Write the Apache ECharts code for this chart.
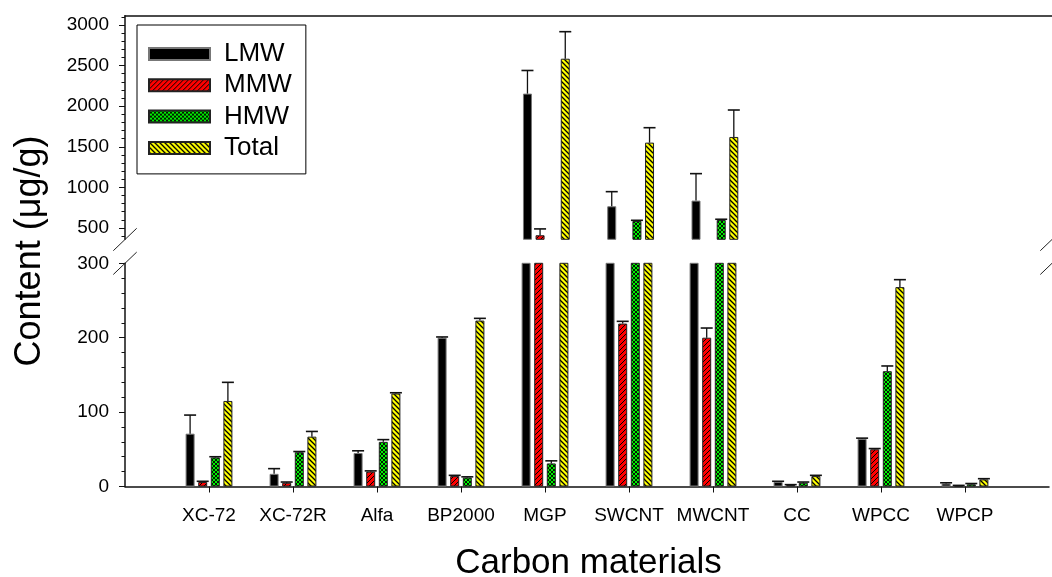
<!DOCTYPE html>
<html>
<head>
<meta charset="utf-8">
<script src="https://cdn.jsdelivr.net/npm/echarts@6/dist/echarts.min.js"></script>
<style>
html,body{margin:0;padding:0;background:#fff;}
#chart{width:1052px;height:577px;}
</style>
</head>
<body>
<div id="chart"></div>
<script>
// ---- data ----
const categories = ['XC-72','XC-72R','Alfa','BP2000','MGP','SWCNT','MWCNT','CC','WPCC','WPCP'];
const seriesNames = ['LMW','MMW','HMW','Total'];
const LMW       = [71, 17, 45, 200, 2155, 767, 837, 6, 64, 4];
const LMW_err   = [25, 7, 3, 1, 285, 180, 332, 1, 1, 1];
const MMW       = [6, 5, 20, 14, 410, 219, 200, 2, 50, 1];
const MMW_err   = [1, 1, 1, 1, 78, 3, 13, 0.5, 1, 0.5];
const HMW       = [39, 46, 60, 12, 31, 586, 598, 5, 155, 3];
const HMW_err   = [1, 1, 3, 1, 3.5, 8, 9, 1, 7, 1];
const Total     = [115, 67, 125, 223, 2585, 1551, 1621, 14, 268, 9.5];
const Total_err = [25, 7, 1, 3, 333, 184, 332, 1, 10, 1];
const upperTicks = [500, 1000, 1500, 2000, 2500, 3000];
const upperMinorTicks = [400,500,600,700,800,900,1000,1100,1200,1300,1400,1500,1600,1700,1800,1900,2000,2100,2200,2300,2400,2500,2600,2700,2800,2900,3000,3100];

const values = [LMW, MMW, HMW, Total];
const errors = [LMW_err, MMW_err, HMW_err, Total_err];

// ---- patterns ----
function makePattern(kind) {
  const s = kind === 'cross' ? 4 : 5;
  const c = document.createElement('canvas');
  c.width = s; c.height = s;
  const g = c.getContext('2d');
  if (kind === 'slash') {
    g.fillStyle = '#ff0000'; g.fillRect(0,0,s,s);
    g.strokeStyle = '#000'; g.lineWidth = 1;
    g.beginPath();
    g.moveTo(0, s); g.lineTo(s, 0);
    g.moveTo(-1, 1); g.lineTo(1, -1);
    g.moveTo(s-1, s+1); g.lineTo(s+1, s-1);
    g.stroke();
  } else if (kind === 'back') {
    g.fillStyle = '#ffff00'; g.fillRect(0,0,s,s);
    g.strokeStyle = '#000'; g.lineWidth = 1.3;
    g.beginPath();
    g.moveTo(0, 0); g.lineTo(s, s);
    g.moveTo(-1, s-1); g.lineTo(1, s+1);
    g.moveTo(s-1, -1); g.lineTo(s+1, 1);
    g.stroke();
  } else {
    g.fillStyle = '#00ee00'; g.fillRect(0,0,s,s);
    g.strokeStyle = '#000'; g.lineWidth = 0.9;
    g.beginPath();
    g.moveTo(0, 0); g.lineTo(s, s);
    g.moveTo(0, s); g.lineTo(s, 0);
    g.stroke();
  }
  return { image: c, repeat: 'repeat' };
}
const fills = ['#000000', makePattern('slash'), makePattern('cross'), makePattern('back')];
const borders = ['#777', '#222', '#222', '#222'];

const xData = [''].concat(categories, ['']);
const pad = arr => [null].concat(arr, [null]);

const BAR_W = 9, BAR_STEP = 12.6;
const FONT = '"Liberation Sans", Arial, sans-serif';

function errSeries(gridIdx) {
  const data = [];
  values.forEach((arr, si) => {
    arr.forEach((v, ci) => data.push([ci + 1, si, v, errors[si][ci]]));
  });
  return {
    type: 'custom',
    name: 'err' + gridIdx,
    xAxisIndex: gridIdx,
    yAxisIndex: gridIdx,
    z: 5,
    silent: true,
    encode: { x: 0, y: 2 },
    data: data,
    renderItem: function (params, api) {
      const cs = params.coordSys;
      const yTop = cs.y, yBot = cs.y + cs.height;
      const cat = api.value(0), si = api.value(1), v = api.value(2), e = api.value(3);
      const p0 = api.coord([cat, v]);
      const p1 = api.coord([cat, v + e]);
      if (p1[1] > yBot || p0[1] < yTop) return null;
      const x = p0[0] + (si - 1.5) * BAR_STEP;
      const y0 = Math.min(p0[1], yBot);
      const y1 = Math.max(p1[1], yTop);
      const children = [{
        type: 'line',
        shape: { x1: x, y1: y0, x2: x, y2: y1 },
        style: { stroke: '#111', lineWidth: 1.3 }
      }];
      if (p1[1] >= yTop) {
        children.push({
          type: 'line',
          shape: { x1: x - 6, y1: p1[1], x2: x + 6, y2: p1[1] },
          style: { stroke: '#111', lineWidth: 1.6 }
        });
      }
      return { type: 'group', children: children };
    }
  };
}

const series = [];
[0, 1].forEach(gi => {
  seriesNames.forEach((name, si) => {
    series.push({
      type: 'bar',
      name: name,
      xAxisIndex: gi,
      yAxisIndex: gi,
      data: pad(values[si]),
      barWidth: BAR_W,
      barGap: '40%',
      clip: true,
      itemStyle: { color: fills[si], borderColor: borders[si], borderWidth: 1 }
    });
  });
  series.push(errSeries(gi));
});

const axisLineStyle = { color: '#111', width: 1.5 };
const tickStyle = { color: '#111', width: 1 };
const plain = v => String(v);

function brk(cx, cy) {
  return {
    type: 'line',
    shape: { x1: cx - 11.7, y1: cy + 11.2, x2: cx + 11.7, y2: cy - 11.2 },
    style: { stroke: '#222', lineWidth: 1 },
    z: 100
  };
}

const option = {
  animation: false,
  backgroundColor: '#fff',
  legend: {
    data: seriesNames,
    orient: 'vertical',
    left: 137,
    top: 25,
    padding: [16, 14, 13, 11],
    itemWidth: 61,
    itemHeight: 12,
    itemGap: 5.3,
    icon: 'rect',
    borderColor: '#000',
    borderWidth: 1,
    backgroundColor: '#fff',
    textStyle: { fontFamily: FONT, fontSize: 26, color: '#000', lineHeight: 26, padding: [0, 0, 0, 9] },
    selectedMode: false
  },
  grid: [
    { left: 125, top: 263.3, width: 927, height: 223.2, containLabel: false },
    { left: 125, top: 15.7, width: 927, height: 223.6, containLabel: false }
  ],
  xAxis: [
    {
      type: 'category', gridIndex: 0, data: xData, boundaryGap: false, position: 'bottom',
      axisLine: { lineStyle: axisLineStyle },
      axisTick: { length: 6, lineStyle: tickStyle, interval: (i) => i > 0 && i < xData.length - 1 },
      axisLabel: { interval: 0, fontFamily: FONT, fontSize: 19, color: '#000', margin: 20 },
      splitLine: { show: false }
    },
    {
      type: 'category', gridIndex: 1, data: xData, boundaryGap: false, position: 'top',
      axisLine: { lineStyle: axisLineStyle },
      axisTick: { show: false },
      axisLabel: { show: false },
      splitLine: { show: false }
    }
  ],
  yAxis: [
    {
      type: 'value', gridIndex: 0, position: 'left', min: 0, max: 300, interval: 100,
      axisLine: { show: true, lineStyle: axisLineStyle },
      axisTick: { show: true, length: 6, lineStyle: tickStyle },
      minorTick: { show: true, splitNumber: 5, length: 3.5, lineStyle: tickStyle },
      axisLabel: { fontFamily: FONT, fontSize: 19, color: '#000', margin: 16, formatter: plain },
      splitLine: { show: false },
      minorSplitLine: { show: false }
    },
    {
      type: 'value', gridIndex: 1, position: 'left', min: 360, max: 3115,
      axisLine: { show: true, lineStyle: axisLineStyle },
      axisTick: { show: true, length: 6, customValues: upperTicks, lineStyle: tickStyle },
      axisLabel: { fontFamily: FONT, fontSize: 19, color: '#000', margin: 16, customValues: upperTicks, formatter: plain },
      splitLine: { show: false }
    },
    {
      type: 'value', gridIndex: 1, position: 'left', offset: 0, min: 360, max: 3115,
      axisLine: { show: false },
      axisTick: { show: true, length: 3.5, customValues: upperMinorTicks, lineStyle: tickStyle },
      axisLabel: { show: false },
      splitLine: { show: false }
    }
  ],
  graphic: [
    brk(125, 239.5), brk(125, 263.3), brk(1052, 239.5), brk(1052, 263.3),
    {
      type: 'text', x: 30, y: 251, rotation: Math.PI / 2, z: 100,
      style: { text: 'Content (μg/g)', font: '36px ' + FONT, fill: '#000', textAlign: 'center', textVerticalAlign: 'middle' }
    },
    {
      type: 'text', x: 588.5, y: 563, z: 100,
      style: { text: 'Carbon materials', font: '35px ' + FONT, fill: '#000', textAlign: 'center', textVerticalAlign: 'middle' }
    }
  ],
  series: series
};

const chart = echarts.init(document.getElementById('chart'), null, { renderer: 'canvas' });
chart.setOption(option);
</script>
</body>
</html>
